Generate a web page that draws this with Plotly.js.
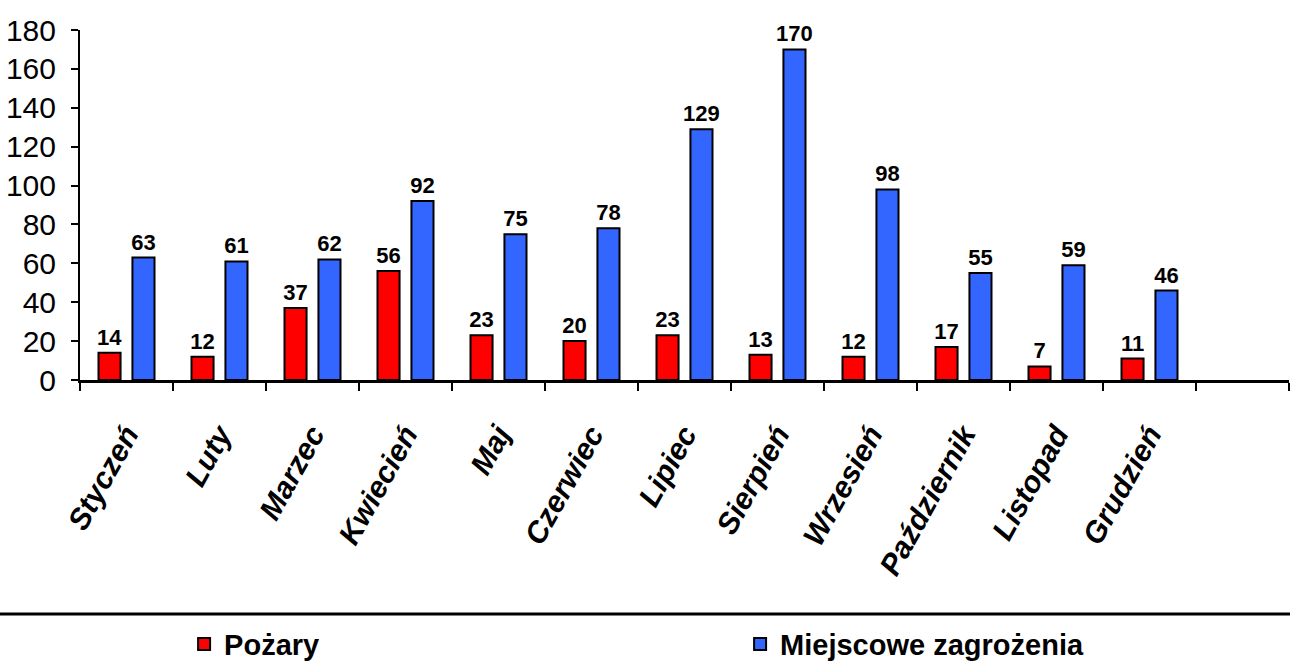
<!DOCTYPE html>
<html>
<head>
<meta charset="utf-8">
<script src="https://cdn.plot.ly/plotly-3.0.1.min.js"></script>
<style>html,body{margin:0;padding:0;background:#fff;}#chart{width:1290px;height:672px;}</style>
</head>
<body>
<div id="chart"></div>
<script>
const months = ['Styczeń','Luty','Marzec','Kwiecień','Maj','Czerwiec','Lipiec','Sierpień','Wrzesień','Październik','Listopad','Grudzień',' '];
const pozary = [14,12,37,56,23,20,23,13,12,17,7,11,null];
const miejscowe = [63,61,62,92,75,78,129,170,98,55,59,46,null];
const seriesNames = ['Pożary','Miejscowe zagrożenia'];

const labelFont = {family:'Liberation Sans, Arial, sans-serif', size:22, color:'#000', weight:'bold'};
const txt = a => a.map(v => v === null ? '' : String(v));

const traces = [
  {type:'bar', name:seriesNames[0], x:months, y:pozary, text:txt(pozary), textposition:'outside',
   textfont:labelFont, cliponaxis:false, constraintext:'none',
   marker:{color:'#FF0000', line:{color:'#000', width:2}}, hoverinfo:'skip'},
  {type:'bar', name:seriesNames[1], x:months, y:miejscowe, text:txt(miejscowe), textposition:'outside',
   textfont:labelFont, cliponaxis:false, constraintext:'none',
   marker:{color:'#3366FF', line:{color:'#000', width:2}}, hoverinfo:'skip'}
];

const layout = {
  width:1290, height:672,
  margin:{l:80, r:1, t:30, b:292, autoexpand:false},
  paper_bgcolor:'#fff', plot_bgcolor:'#fff',
  barmode:'group', bargap:0.27, bargroupgap:0.35,
  showlegend:true,
  legend:{orientation:'h', x:0.0861, xanchor:'left', y:-0.755, yanchor:'middle',
          entrywidth:511, entrywidthmode:'pixels',
          font:{family:'Liberation Sans, Arial, sans-serif', size:29, color:'#000', weight:'bold'},
          bgcolor:'rgba(0,0,0,0)'},
  xaxis:{type:'category', range:[-0.5,12.5], showline:true, linecolor:'#000', linewidth:3,
         ticks:'outside', tickson:'boundaries', ticklen:8, tickwidth:2, tickcolor:'#000',
         tickangle:-61, ticklabelstandoff:22, showgrid:false, zeroline:false,
         tickfont:{family:'Liberation Sans, Arial, sans-serif', size:30, color:'#000', weight:'bold', style:'italic'}},
  yaxis:{range:[0,180], dtick:20, showline:true, linecolor:'#000', linewidth:2,
         ticks:'outside', ticklen:7, tickwidth:2, tickcolor:'#000', ticklabelstandoff:9,
         showgrid:false, zeroline:false,
         tickfont:{family:'Liberation Sans, Arial, sans-serif', size:30, color:'#000'}},
  shapes:[{type:'line', xref:'paper', yref:'paper', x0:-0.0662, x1:1.001, y0:-0.6686, y1:-0.6686,
           line:{color:'#000', width:3}}]
};

Plotly.newPlot('chart', traces, layout, {staticPlot:true, displayModeBar:false});
</script>
</body>
</html>
